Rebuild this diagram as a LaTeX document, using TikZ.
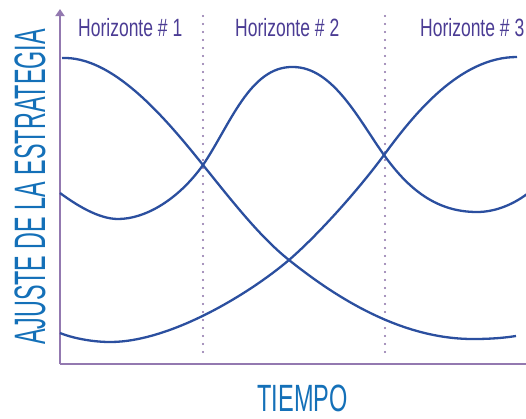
\documentclass[tikz,border=0pt]{standalone}
\usepackage{fontspec}
\usepackage{tikz}
\usetikzlibrary{positioning, arrows.meta}

\setmainfont{Liberation Sans}
\newfontfamily\horizfont{Liberation Sans}[FakeStretch=0.70]
\newfontfamily\tiempofont{Liberation Sans}[FakeStretch=0.62]
\newfontfamily\ajustefont{Liberation Sans}[FakeStretch=0.53]

\definecolor{curveblue}{HTML}{2B4F9F}
\definecolor{axispurple}{HTML}{9379B0}
\definecolor{dotpurple}{HTML}{8A6EA6}
\definecolor{horizpurple}{HTML}{4B3C94}
\definecolor{labelblue}{HTML}{1470B8}

\begin{document}
\begin{tikzpicture}[
        x=1pt, y=-1pt, % picture measured in pixels, y downwards
        axis/.style={draw=axispurple, line width=2pt},
        divider/.style={draw=dotpurple, line width=2.4pt, line cap=round, dash pattern=on 0pt off 8pt},
        curve/.style={draw=curveblue, line width=2.3pt},
        horizlabel/.style={text=horizpurple, inner sep=0pt, anchor=base west,
            font=\horizfont\fontsize{25}{25}\selectfont},
        axislabel/.style={text=labelblue, inner sep=0pt, text depth=0pt, anchor=base}
    ]
        \useasboundingbox (0,0) rectangle (526,418);

        % Axes
        \coordinate (origin) at (60,364);
        \coordinate (ytop) at (60,9);
        \coordinate (xend) at (527,364);
        \draw [axis, -{Triangle[width=9pt, length=7pt]}] (origin) -- (ytop);
        \draw [axis] (origin) -- (xend);

        % Dotted dividers between the horizons
        \coordinate (div1top) at (203,16);
        \coordinate (div1bot) at (203,354);
        \coordinate (div2top) at (385,16);
        \coordinate (div2bot) at (385,354);
        \draw [divider] (div1top) -- (div1bot);
        \draw [divider] (div2top) -- (div2bot);

        % Nodes
        \node [horizlabel] (hor1) at (78,36) {Horizonte \# 1};
        \node [horizlabel] (hor2) at (235,36) {Horizonte \# 2};
        \node [horizlabel] (hor3) at (420,36) {Horizonte \# 3};
        \node [axislabel, font=\tiempofont\fontsize{38}{38}\selectfont] (tiempo) at (302.5,411) {TIEMPO};
        \node [axislabel, rotate=90, font=\ajustefont\fontsize{44}{44}\selectfont] (ajuste) at (45,187) {AJUSTE DE LA ESTRATEGIA};

        % Crossing points of the curves
        \coordinate (crossL) at (203,165);
        \coordinate (crossM) at (289,260);
        \coordinate (crossR) at (384,155);

        % Curves
        \draw [curve] (62,58) .. controls (112,56) and (163,115) .. (crossL)
            .. controls (232,201) and (260,237) .. (crossM)
            .. controls (339,300) and (403,339) .. (473,339)
            .. controls (490,339) and (503,338) .. (516,336);
        \draw [curve] (60,193) .. controls (75,204) and (98,219) .. (118,219)
            .. controls (145,219) and (178,200) .. (crossL)
            .. controls (230,125) and (250,66) .. (293,67)
            .. controls (333,67) and (359,120) .. (crossR)
            .. controls (409,190) and (437,212) .. (477,212)
            .. controls (497,212) and (515,203) .. (527,194);
        \draw [curve] (60,333) .. controls (75,339) and (95,342) .. (110,342)
            .. controls (170,342) and (249,294) .. (crossM)
            .. controls (319,234) and (359,189) .. (crossR)
            .. controls (414,114) and (460,57) .. (517,57);
    \end{tikzpicture}
\end{document}
